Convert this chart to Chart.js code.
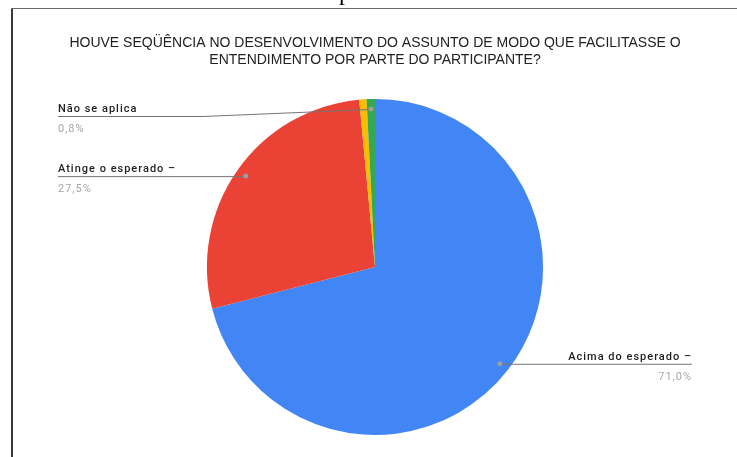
<!DOCTYPE html>
<html>
<head>
<meta charset="utf-8">
<script src="https://cdn.jsdelivr.net/npm/chart.js@4.4.1/dist/chart.umd.min.js"></script>
<style>
  html, body { margin: 0; padding: 0; background: #fff; }
  canvas { display: block; }
</style>
</head>
<body>
<canvas id="pieChart" width="737" height="457"></canvas>
<script>
// --- Data ---
const titleLines = [
    "HOUVE SEQÜÊNCIA NO DESENVOLVIMENTO DO ASSUNTO DE MODO QUE FACILITASSE O",
    "ENTENDIMENTO POR PARTE DO PARTICIPANTE?",
];
const categories = ["Acima do esperado –", "Atinge o esperado –", "Abaixo do esperado –", "Não se aplica"];
const values = [71.0, 27.5, 0.7, 0.8];
const colors = ["#4285f4", "#ea4335", "#fbbc04", "#34a853"];

// which slices get a callout, and where the text sits
const callouts = [
    { index: 0, side: "right", textX: 692 },
    { index: 1, side: "left", textX: 58 },
    { index: 3, side: "left", textX: 58, lineY: 116, elbowX: 203 },
];

function pct(v) {
    const total = values.reduce((a, b) => a + b, 0);
    return (v / total * 100).toFixed(1).replace(".", ",") + "%";
}

// --- Plugins ---
const framePlugin = {
    id: "frame",
    beforeDraw(chart) {
        const c = chart.ctx;
        c.save();
        c.fillStyle = "#fff";
        c.fillRect(0, 0, chart.width, chart.height);
        // page border
        c.fillStyle = "#3a3a3a";
        c.fillRect(11, 8, 2, chart.height - 8);
        c.fillStyle = "#6a6a6a";
        c.fillRect(11, 8, chart.width - 11, 1);
        // clipped glyph from the document above
        c.fillStyle = "#000";
        c.font = "24px 'Liberation Serif', serif";
        c.textBaseline = "alphabetic";
        c.fillText("p", 339, 0);
        c.restore();
    },
};

const calloutPlugin = {
    id: "callouts",
    afterDraw(chart) {
        const c = chart.ctx;
        const arcs = chart.getDatasetMeta(0).data;
        c.save();
        callouts.forEach(co => {
            const arc = arcs[co.index];
            const mid = (arc.startAngle + arc.endAngle) / 2;
            const r = arc.outerRadius * 0.94;
            const dx = arc.x + Math.cos(mid) * r;
            const dy = arc.y + Math.sin(mid) * r;
            const ly = co.lineY !== undefined ? co.lineY : dy;

            c.strokeStyle = "#757575";
            c.lineWidth = 1;
            c.beginPath();
            c.moveTo(co.textX, ly + 0.5);
            if (co.elbowX !== undefined) {
                c.lineTo(co.elbowX, ly + 0.5);
            }
            c.lineTo(dx, dy + 0.5);
            c.stroke();

            c.fillStyle = "#9e9e9e";
            c.beginPath();
            c.arc(dx, dy, 2.5, 0, Math.PI * 2);
            c.fill();

            c.textAlign = co.side === "left" ? "left" : "right";
            c.textBaseline = "alphabetic";
            c.letterSpacing = "1px";
            c.font = "500 11px Roboto, 'Liberation Sans', sans-serif";
            c.fillStyle = "#1f1f1f";
            c.fillText(categories[co.index], co.textX, ly - 4);
            c.font = "11px Roboto, 'Liberation Sans', sans-serif";
            c.fillStyle = "#a8a8a8";
            c.fillText(pct(values[co.index]), co.textX, ly + 16);
        });
        c.restore();
    },
};

// --- Chart setup ---
const ctx = document.getElementById("pieChart").getContext("2d");
const pieChart = new Chart(ctx, {
    type: "pie",
    data: {
        labels: categories,
        datasets: [{
            data: values,
            backgroundColor: colors,
            borderWidth: 0,
        }],
    },
    options: {
        responsive: false,
        animation: false,
        devicePixelRatio: 1,
        events: [],
        layout: {
            padding: { left: 13, right: 0, top: 0, bottom: 22 },
        },
        plugins: {
            legend: { display: false },
            tooltip: { enabled: false },
            title: {
                display: true,
                text: titleLines,
                color: "#222",
                font: { family: "'Liberation Sans', Arial, sans-serif", size: 14, weight: "normal", lineHeight: 1.21 },
                padding: { top: 34.5, bottom: 30.5 },
            },
        },
    },
    plugins: [framePlugin, calloutPlugin],
});
</script>
</body>
</html>
